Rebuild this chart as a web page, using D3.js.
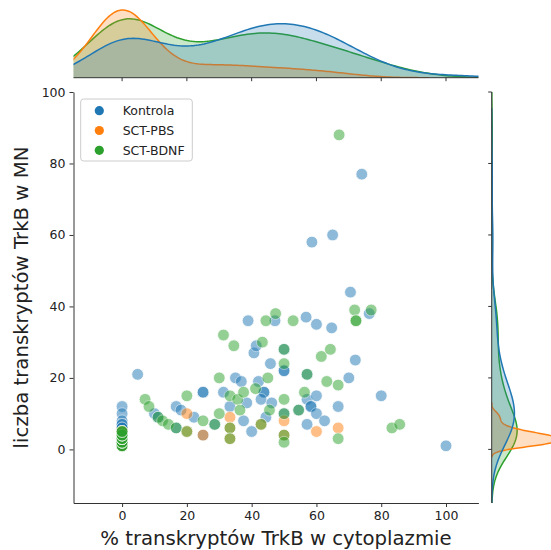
<!DOCTYPE html>
<html><head><meta charset="utf-8">
<script src="https://cdn.jsdelivr.net/npm/d3@7"></script>
<style>body{margin:0;background:#fff;} svg{display:block;font-family:"DejaVu Sans",sans-serif;}</style>
</head><body><svg id="c" width="551" height="550"></svg>
<script>
// ---------------- data ----------------
const categories = ["Kontrola", "SCT-PBS", "SCT-BDNF"];
const colors = ["#1f77b4", "#ff7f0e", "#2ca02c"];
const xTicks = [0, 20, 40, 60, 80, 100];
const yTicks = [0, 20, 40, 60, 80, 100];
const xLabel = "% transkryptów TrkB w cytoplazmie";
const yLabel = "liczba transkryptów TrkB w MN";

const kontrolaX = [0,0,0,0,0,0,0,0,0,0,0,0,0,0,0,0,
  4.8,10,11.1,16.7,16.7,18.2,22.2,25,25,25,28.6,31.3,33.3,35,36.8,37.5,40,38.5,40.7,41.4,42.1,43.8,43.8,42.9,45.8,46.2,44.4,
  50,50,50,50,57.1,57.1,58.3,58.3,54.5,60,60,62.5,57.1,70,72,66.7,80,100,58.6,65,70.5,76.3,38.9,47.2,56.8,60,64.7,74];
const kontrolaY = [12,10,8,7,7,6,6,5,5,4,4,3,3,2,2,1,
  21,10,9,6,12,11,9,16,16,4,7,16,12,20,19,8,5,13,27,29,19,16,16,14,24,13,9,
  28,22,22,10,21,14,12,12,11,15,10,8,7,20,25,12,15,1,58,60,44,38,36,36,37,35,34,77];

const pbsX = [0,0,0,0,0,0,0,0,0,0,0,0,0,0,0,0,0,0,0,0,0,0,0,0,0,0,0,0,0,
  20,20,25,33.3,33.3,33.3,42.9,50,50,60,66.7];
const pbsY = [1,1,1,1,1,1,2,2,2,2,2,2,2,2,3,3,3,3,3,3,3,3,4,4,4,4,4,5,5,
  10,5,4,9,6,3,7,8,4,5,6];

const bdnfX = [0,0,0,0,0,0,0,0,0,0,0,0,0,0,0,0,0,0,0,0,0,0,0,0,0,0,
  7.1,8.3,11.1,12.5,14.3,16.7,20,20,25,28.6,30,30,31.3,34.5,33.3,35.7,36.4,33.3,33.3,37.5,43.3,41.2,45,45.5,42.9,
  50,50,50,50,50,50,57.1,56.3,54.5,61.5,64.3,63.2,66.7,66.7,83.3,85.7,71.8,76.9,72.2,72.2,44.4,47.4,52.8,67];
const bdnfY = [1,1,1,1,1,2,2,2,2,2,2,3,3,3,3,3,3,3,4,4,4,4,4,5,5,5,
  14,12,9,8,7,6,5,15,8,7,10,20,32,29,15,14,11,6,3,16,30,17,20,11,7,
  28,24,14,10,4,2,21,16,11,26,28,19,18,3,6,7,39,39,36,36,36,38,36,88];

const groups = [
  {name: categories[0], color: colors[0], x: kontrolaX, y: kontrolaY},
  {name: categories[1], color: colors[1], x: pbsX, y: pbsY},
  {name: categories[2], color: colors[2], x: bdnfX, y: bdnfY}
];

// ---------------- layout ----------------
const M = {left: 73.5, right: 478.4, top: 92, bottom: 503};
const TOP = {bottom: 77.7, top: 6.6};
const RIGHT = {left: 491.7, right: 562.7};
const axisColor = "#333";
const textColor = "#222";

const svg = d3.select("#c");
const x = d3.scaleLinear().domain([-15, 110]).range([M.left, M.right]);
const y = d3.scaleLinear().domain([-15, 100]).range([M.bottom, M.top]);

// ---------------- KDE ----------------
const N = d3.sum(groups, g => g.x.length);
function kde(vals, weight) {
  const n = vals.length;
  const sd = d3.deviation(vals);
  const h = sd * Math.pow(n, -0.2);
  const lo = d3.min(vals) - 3 * h, hi = d3.max(vals) + 3 * h;
  const pts = [];
  for (let i = 0; i < 200; i++) {
    const t = lo + (hi - lo) * i / 199;
    let s = 0;
    for (const v of vals) { const z = (t - v) / h; s += Math.exp(-0.5 * z * z); }
    pts.push([t, s / (n * h * Math.sqrt(2 * Math.PI)) * weight]);
  }
  return pts;
}
groups.forEach(g => {
  g.kx = kde(g.x, g.x.length / N);
  g.ky = kde(g.y, g.y.length / N);
});
const maxX = d3.max(groups, g => d3.max(g.kx, d => d[1]));
const maxY = d3.max(groups, g => d3.max(g.ky, d => d[1]));
const dTop = d3.scaleLinear().domain([0, maxX * 1.05]).range([TOP.bottom, TOP.top]);
const dRight = d3.scaleLinear().domain([0, maxY * 1.05]).range([RIGHT.left, RIGHT.right]);

const defs = svg.append("defs");
defs.append("clipPath").attr("id", "clipTop").append("rect")
  .attr("x", M.left).attr("y", 0).attr("width", M.right - M.left).attr("height", TOP.bottom);
defs.append("clipPath").attr("id", "clipRight").append("rect")
  .attr("x", RIGHT.left).attr("y", M.top).attr("width", 100).attr("height", M.bottom - M.top);

const order = [2, 1, 0];
const gTop = svg.append("g").attr("clip-path", "url(#clipTop)");
order.forEach(i => {
  const g = groups[i];
  gTop.append("path").datum(g.kx)
    .attr("d", d3.area().x(d => x(d[0])).y0(TOP.bottom).y1(d => dTop(d[1])))
    .attr("fill", g.color).attr("fill-opacity", 0.25);
  gTop.append("path").datum(g.kx)
    .attr("d", d3.line().x(d => x(d[0])).y(d => dTop(d[1])))
    .attr("fill", "none").attr("stroke", g.color).attr("stroke-width", 1.5);
});
const gRight = svg.append("g").attr("clip-path", "url(#clipRight)");
order.forEach(i => {
  const g = groups[i];
  gRight.append("path").datum(g.ky)
    .attr("d", d3.area().y(d => y(d[0])).x0(RIGHT.left).x1(d => dRight(d[1])))
    .attr("fill", g.color).attr("fill-opacity", 0.25);
  gRight.append("path").datum(g.ky)
    .attr("d", d3.line().y(d => y(d[0])).x(d => dRight(d[1])))
    .attr("fill", "none").attr("stroke", g.color).attr("stroke-width", 1.5);
});

// marginal spines + ticks
svg.append("line").attr("x1", M.left).attr("x2", M.right).attr("y1", TOP.bottom).attr("y2", TOP.bottom)
  .attr("stroke", axisColor).attr("stroke-width", 1);
xTicks.forEach(t => svg.append("line").attr("x1", x(t)).attr("x2", x(t)).attr("y1", TOP.bottom).attr("y2", TOP.bottom + 3.5)
  .attr("stroke", axisColor).attr("stroke-width", 1));
svg.append("line").attr("x1", RIGHT.left).attr("x2", RIGHT.left).attr("y1", M.top).attr("y2", M.bottom)
  .attr("stroke", axisColor).attr("stroke-width", 1);
yTicks.forEach(t => svg.append("line").attr("x1", RIGHT.left - 3.5).attr("x2", RIGHT.left).attr("y1", y(t)).attr("y2", y(t))
  .attr("stroke", axisColor).attr("stroke-width", 1));

// ---------------- scatter ----------------
const gPts = svg.append("g");
groups.forEach(g => {
  g.x.forEach((xv, i) => {
    gPts.append("circle").attr("cx", x(xv)).attr("cy", y(g.y[i])).attr("r", 5.9)
      .attr("fill", g.color).attr("stroke", "#fff").attr("stroke-width", 0.8).attr("opacity", 0.5);
  });
});

// ---------------- main axes ----------------
const xAxis = svg.append("g").attr("transform", `translate(0,${M.bottom})`)
  .call(d3.axisBottom(x).tickValues(xTicks).tickSize(4).tickPadding(4).tickSizeOuter(0));
const yAxis = svg.append("g").attr("transform", `translate(${M.left},0)`)
  .call(d3.axisLeft(y).tickValues(yTicks).tickSize(4).tickPadding(4).tickSizeOuter(0));
[xAxis, yAxis].forEach(a => {
  a.selectAll("path").attr("stroke", axisColor).attr("stroke-width", 1);
  a.selectAll("line").attr("stroke", axisColor).attr("stroke-width", 1);
  a.selectAll("text").attr("fill", textColor).style("font-size", "12.5px").style("font-family", "DejaVu Sans");
});

svg.append("text").attr("x", (M.left + M.right) / 2).attr("y", 545).attr("text-anchor", "middle")
  .attr("fill", textColor).style("font-size", "19.7px").text(xLabel);
svg.append("text").attr("transform", `translate(28,${(M.top + M.bottom) / 2}) rotate(-90)`).attr("text-anchor", "middle")
  .attr("fill", textColor).style("font-size", "19.7px").text(yLabel);

// ---------------- legend ----------------
const lg = svg.append("g");
lg.append("rect").attr("x", 80.7).attr("y", 99).attr("width", 111.6).attr("height", 62).attr("rx", 3)
  .attr("fill", "#fff").attr("fill-opacity", 0.8).attr("stroke", "#ccc").attr("stroke-width", 1);
categories.forEach((c, i) => {
  const yy = 110.7 + i * 19.8;
  lg.append("circle").attr("cx", 99.3).attr("cy", yy).attr("r", 4.6).attr("fill", colors[i]);
  lg.append("text").attr("x", 122.7).attr("y", yy).attr("dy", "0.36em").attr("fill", textColor)
    .style("font-size", "12.5px").text(c);
});
</script></body></html>
